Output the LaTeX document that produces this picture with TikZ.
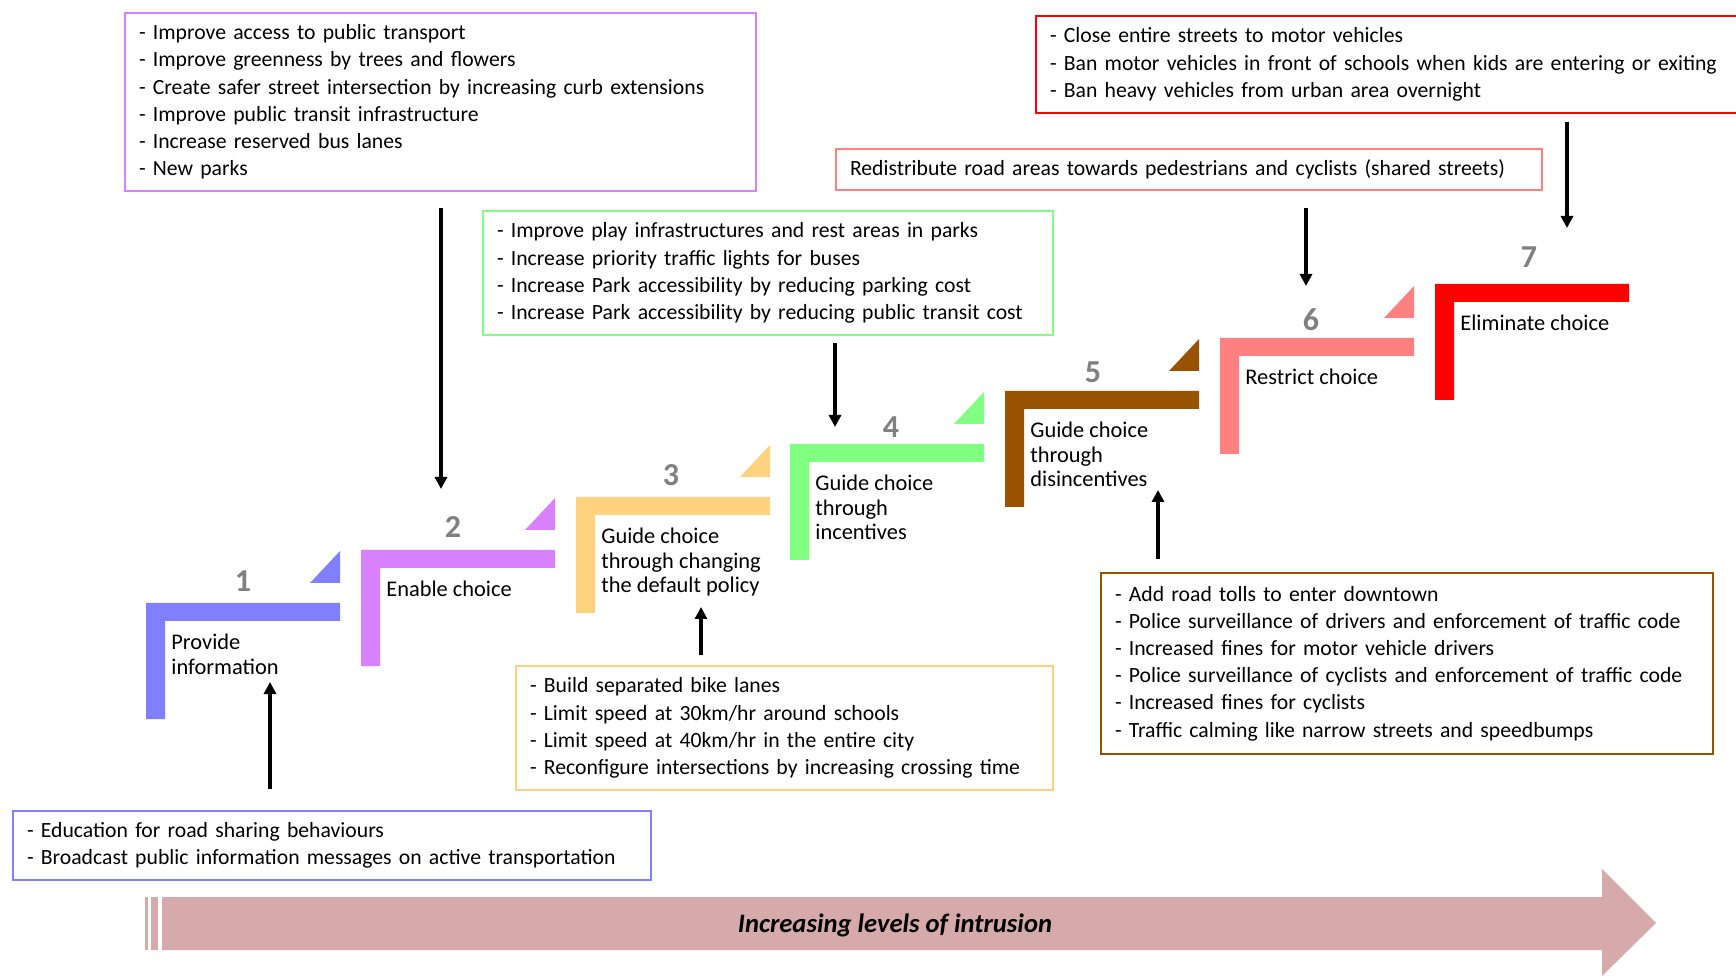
\documentclass[tikz,border=0pt]{standalone}
\usepackage{fontspec}
\setmainfont{Carlito}
\usetikzlibrary{arrows.meta}

\definecolor{stepblue}{RGB}{128,128,255}
\definecolor{steppurple}{RGB}{217,128,255}
\definecolor{stepyellow}{RGB}{255,210,127}
\definecolor{stepgreen}{RGB}{128,255,128}
\definecolor{stepbrown}{RGB}{153,82,0}
\definecolor{stepsalmon}{RGB}{255,128,128}
\definecolor{stepred}{RGB}{255,0,0}
\definecolor{bandpink}{RGB}{214,170,170}
\definecolor{numgray}{RGB}{128,128,128}

\tikzset{
  listbox/.style={draw=#1, line width=1pt, anchor=north west, align=left,
    inner xsep=7pt, inner ysep=0pt, font=\fontsize{10.85}{13.6}\selectfont},
  steplabel/.style={anchor=north west, align=left, inner sep=0pt,
    font=\fontsize{11.2}{12.2}\selectfont},
  stepnum/.style={text=numgray, font=\fontsize{16}{16}\selectfont\bfseries},
  push/.style={line width=1.6pt, -{Triangle[width=6pt,length=6pt]}},
}

\begin{document}
\begin{tikzpicture}[x=0.5pt,y=-0.5pt]
  \useasboundingbox (0,0) rectangle (1736,978);

  % steps
  \fill[stepblue] (146,603) -- ++(194,0) -- ++(0,18) -- ++(-175,0) -- ++(0,98) -- ++(-19,0) -- cycle;
  \fill[stepblue] (340,551) -- (340,583) -- (310,583) -- cycle;
  \node[stepnum] (n1) at (243,581) {1};
  \node[steplabel] (l1) at (171,634) {Provide\\information};

  \fill[steppurple] (361,550) -- ++(194,0) -- ++(0,18) -- ++(-175,0) -- ++(0,98) -- ++(-19,0) -- cycle;
  \fill[steppurple] (555,498) -- (555,530) -- (525,530) -- cycle;
  \node[stepnum] (n2) at (453,527) {2};
  \node[steplabel] (l2) at (386,581) {Enable choice};

  \fill[stepyellow] (576,497) -- ++(194,0) -- ++(0,18) -- ++(-175,0) -- ++(0,98) -- ++(-19,0) -- cycle;
  \fill[stepyellow] (770,445) -- (770,477) -- (740,477) -- cycle;
  \node[stepnum] (n3) at (671,475) {3};
  \node[steplabel] (l3) at (601,528) {Guide choice\\through changing\\the default policy};

  \fill[stepgreen] (790,444) -- ++(194,0) -- ++(0,18) -- ++(-175,0) -- ++(0,98) -- ++(-19,0) -- cycle;
  \fill[stepgreen] (984,392) -- (984,424) -- (954,424) -- cycle;
  \node[stepnum] (n4) at (891,427) {4};
  \node[steplabel] (l4) at (815,475) {Guide choice\\through\\incentives};

  \fill[stepbrown] (1005,391) -- ++(194,0) -- ++(0,18) -- ++(-175,0) -- ++(0,98) -- ++(-19,0) -- cycle;
  \fill[stepbrown] (1199,339) -- (1199,371) -- (1169,371) -- cycle;
  \node[stepnum] (n5) at (1093,372) {5};
  \node[steplabel] (l5) at (1030,422) {Guide choice\\through\\disincentives};

  \fill[stepsalmon] (1220,338) -- ++(194,0) -- ++(0,18) -- ++(-175,0) -- ++(0,98) -- ++(-19,0) -- cycle;
  \fill[stepsalmon] (1414,286) -- (1414,318) -- (1384,318) -- cycle;
  \node[stepnum] (n6) at (1311,320) {6};
  \node[steplabel] (l6) at (1245,369) {Restrict choice};

  \fill[stepred] (1435,284) -- ++(194,0) -- ++(0,18) -- ++(-175,0) -- ++(0,98) -- ++(-19,0) -- cycle;
  \node[stepnum] (n7) at (1529,257) {7};
  \node[steplabel] (l7) at (1460,315) {Eliminate choice};

  % measures
  \node[listbox=steppurple, text width=301.5pt, minimum height=89pt] (enablebox) at (124,12)
    {- Improve access to public transport\\
     - Improve greenness by trees and flowers\\
     - Create safer street intersection by increasing curb extensions\\
     - Improve public transit infrastructure\\
     - Increase reserved bus lanes\\
     - New parks};
  \node[listbox=stepred, text width=356pt, minimum height=48.5pt] (elimbox) at (1035,15)
    {- Close entire streets to motor vehicles\\
     - Ban motor vehicles in front of schools when kids are entering or exiting\\
     - Ban heavy vehicles from urban area overnight};
  \node[listbox=stepsalmon, text width=339pt, minimum height=20.5pt] (restrbox) at (835,148)
    {Redistribute road areas towards pedestrians and cyclists (shared streets)};
  \node[listbox=stepgreen, text width=271pt, minimum height=62pt] (incbox) at (482,210)
    {- Improve play infrastructures and rest areas in parks\\
     - Increase priority traffic lights for buses\\
     - Increase Park accessibility by reducing parking cost\\
     - Increase Park accessibility by reducing public transit cost};
  \node[listbox=stepyellow, text width=254.5pt, minimum height=62pt] (defbox) at (515,665)
    {- Build separated bike lanes\\
     - Limit speed at 30km/hr around schools\\
     - Limit speed at 40km/hr in the entire city\\
     - Reconfigure intersections by increasing crossing time};
  \node[listbox=stepbrown, text width=292pt, minimum height=90.5pt] (disbox) at (1100,572)
    {- Add road tolls to enter downtown\\
     - Police surveillance of drivers and enforcement of traffic code\\
     - Increased fines for motor vehicle drivers\\
     - Police surveillance of cyclists and enforcement of traffic code\\
     - Increased fines for cyclists\\
     - Traffic calming like narrow streets and speedbumps};
  \node[listbox=stepblue, text width=305pt, minimum height=34.5pt] (infobox) at (12,810)
    {- Education for road sharing behaviours\\
     - Broadcast public information messages on active transportation};

  % arrows
  \coordinate (t1) at (270,682);
  \coordinate (t2) at (441,489);
  \coordinate (t3) at (701,607);
  \coordinate (t4) at (835,427);
  \coordinate (t5) at (1158,490);
  \coordinate (t6) at (1306,286);
  \coordinate (t7) at (1567,228);
  \draw[push] ([yshift=10.5pt]infobox.north -| t1) -- (t1);
  \draw[push] ([yshift=-8pt]enablebox.south -| t2) -- (t2);
  \draw[push] ([yshift=5pt]defbox.north -| t3) -- (t3);
  \draw[push] ([yshift=-3.5pt]incbox.south -| t4) -- (t4);
  \draw[push] ([yshift=6.5pt]disbox.north -| t5) -- (t5);
  \draw[push] ([yshift=-8.5pt]restrbox.south -| t6) -- (t6);
  \draw[push] ([yshift=-4pt]elimbox.south -| t7) -- (t7);

  % intrusion band
  \fill[bandpink] (145,897) rectangle (148,950);
  \fill[bandpink] (151,897) rectangle (158,950);
  \fill[bandpink] (162,897) -- (1602,897) -- (1602,869) -- (1656,923) -- (1602,976) -- (1602,950) -- (162,950) -- cycle;
  \node[font=\fontsize{13.3}{14}\selectfont\bfseries\itshape] (band) at (895,925) {Increasing levels of intrusion};
\end{tikzpicture}
\end{document}
